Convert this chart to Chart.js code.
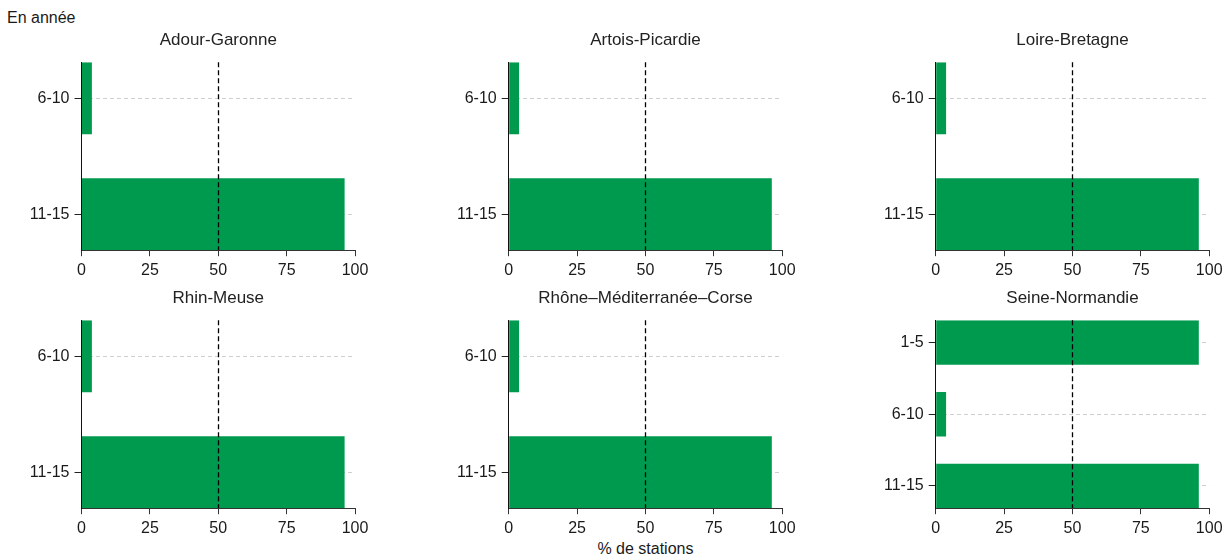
<!DOCTYPE html>
<html lang="fr">
<head>
<meta charset="utf-8">
<title>% de stations par classe de durée</title>
<script src="https://cdn.jsdelivr.net/npm/chart.js@4.4.1/dist/chart.umd.min.js"></script>
<style>
  html, body { margin: 0; padding: 0; background: #ffffff; }
  #page {
    position: relative; width: 1225px; height: 558px; overflow: hidden;
    font-family: "Liberation Sans", Arial, Helvetica, sans-serif; color: #1a1a1a;
  }
  #page canvas { position: absolute; }
  #unit { position: absolute; left: 7px; top: 9px; font-size: 16px; line-height: 18px; white-space: nowrap; }
  #xtitle { position: absolute; top: 540px; font-size: 16px; line-height: 18px; text-align: center; white-space: nowrap; }
</style>
</head>
<body>
<div id="page">
  <div id="unit"></div>
  <div id="xtitle"></div>
</div>
<script>
// ---- data -------------------------------------------------------------
const unitNote = 'En année';
const xAxisTitle = '% de stations';

const regionNames = [
  'Adour-Garonne', 'Artois-Picardie', 'Loire-Bretagne',
  'Rhin-Meuse', 'Rhône–Méditerranée–Corse', 'Seine-Normandie'
];

const classesAdourGaronne = ['6-10', '11-15'];
const sharesAdourGaronne = [3.8, 96.2];

const classesArtoisPicardie = ['6-10', '11-15'];
const sharesArtoisPicardie = [3.8, 96.2];

const classesLoireBretagne = ['6-10', '11-15'];
const sharesLoireBretagne = [3.8, 96.2];

const classesRhinMeuse = ['6-10', '11-15'];
const sharesRhinMeuse = [3.8, 96.2];

const classesRhoneMediterraneeCorse = ['6-10', '11-15'];
const sharesRhoneMediterraneeCorse = [3.8, 96.2];

const classesSeineNormandie = ['1-5', '6-10', '11-15'];
const sharesSeineNormandie = [96.2, 3.8, 96.2];

const xTickValues = [0, 25, 50, 75, 100];
const referenceShare = 50;

// ---- layout & style ---------------------------------------------------
const FONT = '"Liberation Sans", Arial, Helvetica, sans-serif';
const TEXT = '#1a1a1a';
const BAR_GREEN = '#009a4e';
const PLOT_LEFTS = [81.5, 508.7, 935.7];
const PLOT_TOPS = [62, 320];
const PLOT_W = 273.5;
const PLOT_H = 188;
const Y_AXIS_W = 75;
const PAD_RIGHT = 22;
const TITLE_SIZE = 17;
const TITLE_GAP = 11.8;
const TITLE_H = TITLE_SIZE * 1.2 + TITLE_GAP;
const EDGE = 0.31; // half a bar of room above the first and below the last class

const panels = [
  { title: regionNames[0], classes: classesAdourGaronne, shares: sharesAdourGaronne },
  { title: regionNames[1], classes: classesArtoisPicardie, shares: sharesArtoisPicardie },
  { title: regionNames[2], classes: classesLoireBretagne, shares: sharesLoireBretagne },
  { title: regionNames[3], classes: classesRhinMeuse, shares: sharesRhinMeuse },
  { title: regionNames[4], classes: classesRhoneMediterraneeCorse, shares: sharesRhoneMediterraneeCorse },
  { title: regionNames[5], classes: classesSeineNormandie, shares: sharesSeineNormandie }
];

// dashed vertical reference line drawn over the bars
const referenceLine = {
  id: 'referenceLine',
  afterDatasetsDraw(chart, args, opts) {
    const { ctx, chartArea, scales } = chart;
    const px = Math.round(scales.x.getPixelForValue(opts.value)) + 0.5;
    ctx.save();
    ctx.strokeStyle = '#000000';
    ctx.lineWidth = 1.3;
    ctx.setLineDash([5, 3]);
    ctx.beginPath();
    ctx.moveTo(px, chartArea.top);
    ctx.lineTo(px, chartArea.bottom);
    ctx.stroke();
    ctx.restore();
  }
};

const page = document.getElementById('page');
document.getElementById('unit').textContent = unitNote;

panels.forEach((p, i) => {
  const col = i % 3, row = Math.floor(i / 3);
  const canvas = document.createElement('canvas');
  const left = Math.round(PLOT_LEFTS[col] - Y_AXIS_W);
  const top = Math.round(PLOT_TOPS[row] - TITLE_H);
  const areaLeftOffset = PLOT_LEFTS[col] - left;
  const width = Math.round(areaLeftOffset + PLOT_W + PAD_RIGHT);
  const height = Math.round(TITLE_H + PLOT_H + 32);
  const xAxisH = height - TITLE_H - PLOT_H;
  canvas.width = width;
  canvas.height = height;
  canvas.style.left = left + 'px';
  canvas.style.top = top + 'px';
  canvas.style.width = width + 'px';
  canvas.style.height = height + 'px';
  page.appendChild(canvas);

  const n = p.classes.length;
  new Chart(canvas, {
    type: 'bar',
    data: {
      datasets: [{
        data: p.shares.map((v, k) => ({ x: v, y: k })),
        backgroundColor: BAR_GREEN,
        borderWidth: 0,
        categoryPercentage: 1,
        barPercentage: 0.62
      }]
    },
    options: {
      indexAxis: 'y',
      responsive: false,
      animation: false,
      events: [],
      layout: { padding: { top: 0, left: 0, bottom: 0, right: width - areaLeftOffset - PLOT_W } },
      plugins: {
        legend: { display: false },
        tooltip: { enabled: false },
        title: {
          display: true,
          text: p.title,
          fullSize: false,
          color: '#222222',
          font: { family: FONT, size: TITLE_SIZE, weight: 'normal', lineHeight: 1.2 },
          padding: { top: 0, bottom: TITLE_GAP }
        },
        referenceLine: { value: referenceShare }
      },
      scales: {
        x: {
          type: 'linear',
          min: xTickValues[0],
          max: xTickValues[xTickValues.length - 1],
          afterBuildTicks: s => { s.ticks = xTickValues.map(v => ({ value: v })); },
          afterFit: s => { s.height = xAxisH; },
          ticks: { color: TEXT, font: { family: FONT, size: 16 }, padding: 5, maxRotation: 0 },
          grid: { drawOnChartArea: false, drawTicks: true, tickLength: 6, tickColor: '#333333', color: '#333333' },
          border: { display: true, color: '#333333', width: 1, z: 1 }
        },
        y: {
          type: 'linear',
          reverse: true,
          offset: false,
          min: -EDGE,
          max: n - 1 + EDGE,
          afterBuildTicks: s => { s.ticks = p.classes.map((c, k) => ({ value: k })); },
          afterFit: s => { s.width = areaLeftOffset; },
          ticks: {
            color: TEXT, font: { family: FONT, size: 16 }, padding: 5, autoSkip: false,
            callback: v => p.classes[v]
          },
          grid: {
            offset: false,
            drawOnChartArea: true, color: '#cfcfcf', lineWidth: 1,
            drawTicks: true, tickLength: 7, tickColor: '#222222', tickBorderDash: []
          },
          border: { display: true, color: '#111111', width: 1, dash: [4, 3], z: 1 }
        }
      }
    },
    plugins: [referenceLine]
  });
});

// shared x-axis caption under the middle column
const xt = document.getElementById('xtitle');
xt.textContent = xAxisTitle;
xt.style.left = PLOT_LEFTS[1] + 'px';
xt.style.width = PLOT_W + 'px';
</script>
</body>
</html>
